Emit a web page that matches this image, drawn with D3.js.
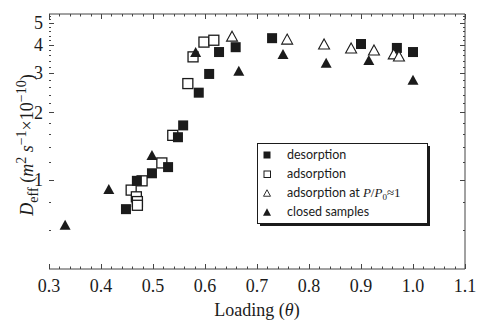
<!DOCTYPE html>
<html>
<head>
<meta charset="utf-8">
<script src="https://cdn.jsdelivr.net/npm/d3@7"></script>
<style>
  body { margin: 0; background: #fff; }
  svg { display: block; }
</style>
</head>
<body>
<div id="chart"></div>
<script>
// values (loading theta, Deff in 1e-10 m2/s)
const desorpX = [0.448, 0.469, 0.498, 0.529, 0.548, 0.558, 0.588, 0.608, 0.627, 0.659, 0.729, 0.900, 0.969, 1.000];
const desorpY = [0.74, 0.99, 1.07, 1.14, 1.55, 1.75, 2.45, 2.97, 3.72, 3.91, 4.29, 4.04, 3.88, 3.72];

const adsorpX = [0.458, 0.468, 0.470, 0.470, 0.479, 0.517, 0.538, 0.567, 0.577, 0.598, 0.617];
const adsorpY = [0.90, 0.84, 0.80, 0.77, 0.99, 1.19, 1.58, 2.69, 3.54, 4.12, 4.20];

const satX = [0.652, 0.758, 0.829, 0.881, 0.925, 0.963, 0.973];
const satY = [4.38, 4.25, 4.04, 3.88, 3.80, 3.65, 3.57];

const closedX = [0.331, 0.415, 0.498, 0.582, 0.665, 0.750, 0.833, 0.915, 1.000];
const closedY = [0.63, 0.91, 1.29, 3.72, 3.07, 3.65, 3.33, 3.43, 2.80];

const xTicks = [0.3, 0.4, 0.5, 0.6, 0.7, 0.8, 0.9, 1.0, 1.1];
const yTicks = [1, 2, 3, 4, 5];
const legendLabels = ['desorption', 'adsorption', 'adsorption at', 'closed samples'];

const W = 477, H = 321;
const m = {left: 49, right: 12, top: 14, bottom: 52};
const ink = '#1b1b1b';

const svg = d3.select('#chart').append('svg').attr('width', W).attr('height', H);

const x = d3.scaleLinear().domain([0.3, 1.1]).range([m.left, W - m.right]);
const y = d3.scaleLog().domain([0.4, 5.5]).range([H - m.bottom, m.top]);

const x0 = x.range()[0], x1 = x.range()[1];
const y0 = y.range()[0], y1 = y.range()[1];

// frame (left side has only ticks)
svg.append('path')
   .attr('d', `M${x0},${y1}H${x1}V${y0}H${x0}`)
   .attr('fill', 'none').attr('stroke', '#444').attr('stroke-width', 1);

// x minor ticks every 0.02, inward on bottom and top
const xMinor = d3.range(0.3, 1.1001, 0.02).map(d => +d.toFixed(2));
const tick = svg.append('g').attr('stroke', '#444').attr('stroke-width', 1);
xMinor.forEach(v => {
  const major = Math.abs(v * 10 - Math.round(v * 10)) < 1e-6;
  const len = major ? 5 : 2.5;
  const px = Math.round(x(v)) + 0.5;
  tick.append('line').attr('x1', px).attr('x2', px).attr('y1', y0).attr('y2', y0 - len);
  tick.append('line').attr('x1', px).attr('x2', px).attr('y1', y1).attr('y2', y1 + len);
});

// y minor ticks
const yMinor = [0.6, 0.8, 1.2, 1.4, 1.6, 1.8, 2.2, 2.4, 2.6, 2.8, 3.2, 3.4, 3.6, 3.8, 4.2, 4.4, 4.6, 4.8, 5.2, 5.4];
yMinor.forEach(v => {
  const py = Math.round(y(v)) + 0.5;
  tick.append('line').attr('x1', x0).attr('x2', x0 + 2).attr('y1', py).attr('y2', py);
  tick.append('line').attr('x1', x1).attr('x2', x1 - 2).attr('y1', py).attr('y2', py);
});
yTicks.forEach(v => {
  const py = Math.round(y(v)) + 0.5;
  tick.append('line').attr('x1', x0).attr('x2', x0 + 5).attr('y1', py).attr('y2', py);
  tick.append('line').attr('x1', x1).attr('x2', x1 - 5).attr('y1', py).attr('y2', py);
});

// tick labels
const serif = '"Liberation Serif", "DejaVu Serif", serif';
svg.append('g').selectAll('text').data(xTicks).join('text')
   .attr('x', d => x(d)).attr('y', 292)
   .attr('text-anchor', 'middle')
   .attr('font-family', serif).attr('font-size', 18).attr('fill', ink)
   .text(d => d.toFixed(1));

svg.append('g').selectAll('text').data(yTicks).join('text')
   .attr('x', 43).attr('y', d => y(d)).attr('dy', '0.34em')
   .attr('text-anchor', 'end')
   .attr('font-family', serif).attr('font-size', 18).attr('fill', ink)
   .text(d => d);

// axis titles
svg.append('text')
   .attr('x', x(0.7)).attr('y', 316)
   .attr('text-anchor', 'middle')
   .attr('font-family', serif).attr('font-size', 18).attr('fill', ink)
   .html('Loading (<tspan font-style="italic">θ</tspan>)');

const yl = svg.append('text')
   .attr('transform', 'translate(33,145) rotate(-90)')
   .attr('text-anchor', 'middle')
   .attr('font-family', serif).attr('font-size', 18).attr('fill', ink);
yl.append('tspan').attr('font-style', 'italic').text('D');
yl.append('tspan').attr('font-size', 14).attr('dy', 5).text('eff');
yl.append('tspan').attr('dy', -5).text(' (');
yl.append('tspan').attr('font-style', 'italic').text('m');
yl.append('tspan').attr('font-size', 14).attr('dy', -7).text('2');
yl.append('tspan').attr('dy', 7).text(' ');
yl.append('tspan').attr('font-style', 'italic').text('s');
yl.append('tspan').attr('font-size', 14).attr('dy', -7).text('−1');
yl.append('tspan').attr('dy', 7).text('×10');
yl.append('tspan').attr('font-size', 14).attr('dy', -7).text('−10');
yl.append('tspan').attr('dy', 7).text(')');

// markers
const tri = (w, h) => `M0,${-h / 2}L${w / 2},${h / 2}L${-w / 2},${h / 2}Z`;
const zip = (xs, ys) => xs.map((d, i) => [d, ys[i]]);

const plot = svg.append('g');

plot.append('g').selectAll('rect').data(zip(adsorpX, adsorpY)).join('rect')
    .attr('x', d => x(d[0]) - 5).attr('y', d => y(d[1]) - 5)
    .attr('width', 10).attr('height', 10)
    .attr('fill', '#fff').attr('stroke', ink).attr('stroke-width', 1.3);

plot.append('g').selectAll('rect').data(zip(desorpX, desorpY)).join('rect')
    .attr('x', d => x(d[0]) - 5).attr('y', d => y(d[1]) - 5)
    .attr('width', 10).attr('height', 10)
    .attr('fill', ink);

plot.append('g').selectAll('path').data(zip(satX, satY)).join('path')
    .attr('transform', d => `translate(${x(d[0])},${y(d[1])})`)
    .attr('d', tri(11, 10))
    .attr('fill', '#fff').attr('stroke', ink).attr('stroke-width', 1.1);

plot.append('g').selectAll('path').data(zip(closedX, closedY)).join('path')
    .attr('transform', d => `translate(${x(d[0])},${y(d[1])})`)
    .attr('d', tri(11, 10))
    .attr('fill', ink);

// legend
const lg = svg.append('g').attr('transform', 'translate(257,143)');
const lw = 170, lh = 80;
lg.append('rect').attr('x', 3).attr('y', 3).attr('width', lw).attr('height', lh).attr('fill', ink);
lg.append('rect').attr('x', 0.5).attr('y', 0.5).attr('width', lw).attr('height', lh)
  .attr('fill', '#fff').attr('stroke', ink).attr('stroke-width', 1);

const rowY = i => 12 + i * 19;
lg.append('rect').attr('x', 6.5).attr('y', rowY(0) - 3.5).attr('width', 7).attr('height', 7).attr('fill', ink);
lg.append('rect').attr('x', 7).attr('y', rowY(1) - 3).attr('width', 6.5).attr('height', 6.5)
  .attr('fill', '#fff').attr('stroke', ink).attr('stroke-width', 1);
lg.append('path').attr('transform', `translate(10,${rowY(2)})`).attr('d', tri(7, 6.5))
  .attr('fill', '#fff').attr('stroke', ink).attr('stroke-width', 0.9);
lg.append('path').attr('transform', `translate(10,${rowY(3)})`).attr('d', tri(8, 7.5))
  .attr('fill', ink);

const sans = 'Lato, "Open Sans", sans-serif';
legendLabels.forEach((t, i) => {
  const tx = lg.append('text').attr('x', 30).attr('y', rowY(i)).attr('dy', '0.35em')
    .attr('font-family', sans).attr('font-size', 12.5).attr('fill', ink).text(t);
  if (i === 2) {
    tx.append('tspan').attr('font-family', serif).text(' ');
    tx.append('tspan').attr('font-family', serif).attr('font-style', 'italic').attr('font-size', 13).text('P');
    tx.append('tspan').attr('font-family', serif).attr('font-size', 13).text('/');
    tx.append('tspan').attr('font-family', serif).attr('font-style', 'italic').attr('font-size', 13).text('P');
    tx.append('tspan').attr('font-family', serif).attr('font-size', 9).attr('dy', 3).text('0');
    tx.append('tspan').attr('font-family', serif).attr('font-size', 13).attr('dy', -3).text('≈1');
  }
});
</script>
</body>
</html>
